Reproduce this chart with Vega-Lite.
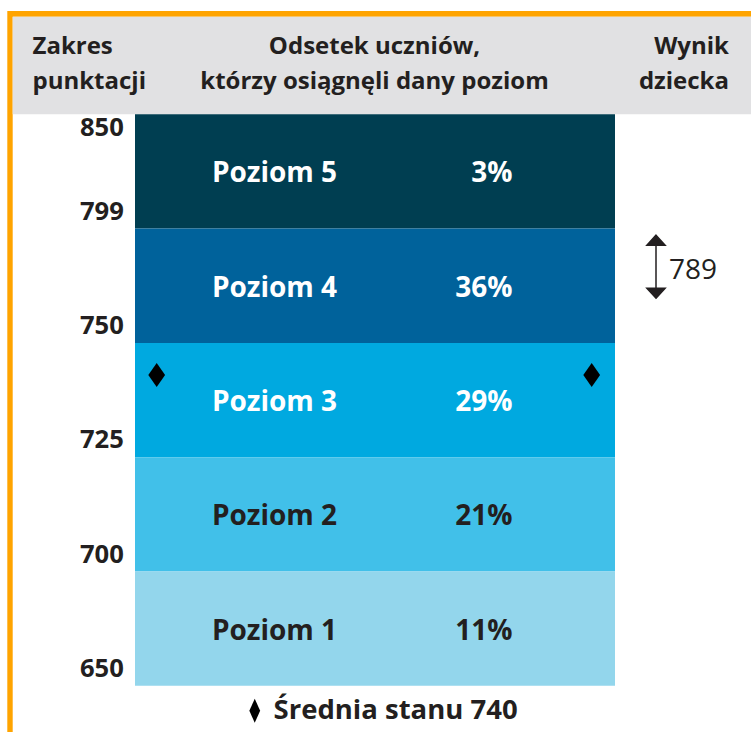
{
  "$schema": "https://vega.github.io/schema/vega-lite/v6.json",
  "width": 751,
  "height": 732,
  "autosize": {"type": "none"},
  "padding": 0,
  "background": "white",
  "config": {
    "view": {"stroke": null},
    "font": "Open Sans",
    "axisX": {"disable": true}
  },
  "datasets": {
    "poziomy": [
      {"poziom": "Poziom 5", "nr": 5, "od": 799, "do": 850, "odsetek": 0.03},
      {"poziom": "Poziom 4", "nr": 4, "od": 750, "do": 799, "odsetek": 0.36},
      {"poziom": "Poziom 3", "nr": 3, "od": 725, "do": 750, "odsetek": 0.29},
      {"poziom": "Poziom 2", "nr": 2, "od": 700, "do": 725, "odsetek": 0.21},
      {"poziom": "Poziom 1", "nr": 1, "od": 650, "do": 700, "odsetek": 0.11}
    ],
    "srednia": [{"srednia": 740, "etykieta": "Średnia stanu 740"}],
    "dziecko": [{"wynik": 789}]
  },
  "layer": [
    {
      "data": {"values": [{}]},
      "layer": [
        {
          "mark": {"type": "rect", "color": "#ffa400"},
          "encoding": {
            "x": {"datum": 7.3, "type": "quantitative", "scale": {"domain": [0, 751], "nice": false, "zero": false}},
            "x2": {"datum": 751},
            "y": {"datum": 11, "type": "quantitative", "scale": {"domain": [0, 732], "range": [0, 732], "nice": false, "zero": false}, "axis": null},
            "y2": {"datum": 732}
          }
        },
        {
          "mark": {"type": "rect", "color": "#ffffff"},
          "encoding": {
            "x": {"datum": 12.7, "type": "quantitative", "scale": {"domain": [0, 751], "nice": false, "zero": false}},
            "x2": {"datum": 751},
            "y": {"datum": 16.7, "type": "quantitative", "axis": null},
            "y2": {"datum": 732}
          }
        },
        {
          "mark": {"type": "rect", "color": "#e1e1e3"},
          "encoding": {
            "x": {"datum": 12.7, "type": "quantitative"},
            "x2": {"datum": 751},
            "y": {"datum": 16.7, "type": "quantitative", "axis": null},
            "y2": {"datum": 114.3}
          }
        },
        {
          "mark": {"type": "text", "align": "left", "baseline": "alphabetic", "font": "Open Sans", "fontWeight": "bold", "fontSize": 24, "lineHeight": 35, "color": "#231f20"},
          "encoding": {
            "text": {"value": ["Zakres", "punktacji"]},
            "x": {"datum": 32.5, "type": "quantitative"},
            "y": {"datum": 54.3, "type": "quantitative", "axis": null}
          }
        },
        {
          "mark": {"type": "text", "align": "center", "baseline": "alphabetic", "font": "Open Sans", "fontWeight": "bold", "fontSize": 24, "lineHeight": 35, "color": "#231f20"},
          "encoding": {
            "text": {"value": ["Odsetek uczniów,", "którzy osiągnęli dany poziom"]},
            "x": {"datum": 374.5, "type": "quantitative"},
            "y": {"datum": 54.3, "type": "quantitative", "axis": null}
          }
        },
        {
          "mark": {"type": "text", "align": "right", "baseline": "alphabetic", "font": "Open Sans", "fontWeight": "bold", "fontSize": 24, "lineHeight": 35, "color": "#231f20"},
          "encoding": {
            "text": {"value": ["Wynik", "dziecka"]},
            "x": {"datum": 729, "type": "quantitative"},
            "y": {"datum": 54.3, "type": "quantitative", "axis": null}
          }
        }
      ]
    },
    {
      "layer": [
        {
          "data": {"name": "poziomy"},
          "mark": {"type": "rect"},
          "encoding": {
            "x": {"datum": 135, "type": "quantitative"},
            "x2": {"datum": 615},
            "y": {
              "field": "od", "type": "quantitative",
              "scale": {"domain": [650, 700, 725, 750, 799, 850], "range": [685.8, 571.5, 457.2, 342.9, 228.6, 114.3], "nice": false, "zero": false},
              "axis": {
                "values": [650, 700, 725, 750, 799, 850],
                "orient": "left",
                "offset": -123.3,
                "zindex": 2,
                "domain": false,
                "ticks": false,
                "tickSize": 0,
                "grid": false,
                "labelPadding": 0,
                "labelAlign": "right",
                "labelBaseline": "alphabetic",
                "labelOffset": {"condition": {"test": "datum.value == 850", "value": 20.7}, "value": -9.5},
                "labelFont": "Open Sans",
                "labelFontWeight": "bold",
                "labelFontSize": 25.6,
                "labelColor": "#231f20",
                "labelFlush": false,
                "labelOverlap": false,
                "labelBound": false,
                "format": "d",
                "title": null
              }
            },
            "y2": {"field": "do"},
            "color": {
              "field": "poziom", "type": "nominal",
              "scale": {"domain": ["Poziom 5", "Poziom 4", "Poziom 3", "Poziom 2", "Poziom 1"], "range": ["#003e51", "#00629b", "#00a9e0", "#41c0e9", "#93d6ec"]},
              "legend": null
            }
          }
        },
        {
          "data": {"name": "poziomy"},
          "mark": {"type": "text", "align": "center", "baseline": "alphabetic", "dy": 68, "font": "Open Sans", "fontWeight": "bold", "fontSize": 28},
          "encoding": {
            "text": {"field": "poziom"},
            "x": {"datum": 274.5, "type": "quantitative"},
            "y": {"field": "do", "type": "quantitative", "scale": {"domain": [650, 700, 725, 750, 799, 850], "range": [685.8, 571.5, 457.2, 342.9, 228.6, 114.3], "nice": false, "zero": false}},
            "color": {"condition": {"test": "datum.nr >= 3", "value": "#ffffff"}, "value": "#231f20"}
          }
        },
        {
          "data": {"name": "poziomy"},
          "mark": {"type": "text", "align": "right", "baseline": "alphabetic", "dy": 68, "font": "Open Sans", "fontWeight": "bold", "fontSize": 28},
          "encoding": {
            "text": {"field": "odsetek", "type": "quantitative", "format": ".0%"},
            "x": {"datum": 512.5, "type": "quantitative"},
            "y": {"field": "do", "type": "quantitative", "scale": {"domain": [650, 700, 725, 750, 799, 850], "range": [685.8, 571.5, 457.2, 342.9, 228.6, 114.3], "nice": false, "zero": false}},
            "color": {"condition": {"test": "datum.nr >= 3", "value": "#ffffff"}, "value": "#231f20"}
          }
        },
        {
          "data": {"name": "srednia"},
          "mark": {"type": "point", "shape": "M0,-1L0.7,0L0,1L-0.7,0Z", "size": 576, "filled": true, "opacity": 1, "strokeWidth": 0},
          "encoding": {
            "x": {"datum": 156.7, "type": "quantitative"},
            "y": {"field": "srednia", "type": "quantitative", "scale": {"domain": [650, 700, 725, 750, 799, 850], "range": [685.8, 571.5, 457.2, 342.9, 228.6, 114.3], "nice": false, "zero": false}},
            "yOffset": {"value": -13.6},
            "fill": {
              "field": "etykieta", "type": "nominal",
              "scale": {"range": ["#000000"]},
              "legend": {
                "orient": "none", "legendX": 241, "legendY": 697, "title": null, "padding": 0,
                "symbolType": "M0,-1L0.45,0L0,1L-0.45,0Z", "symbolSize": 576, "symbolStrokeWidth": 0, "symbolOpacity": 1,
                "labelFont": "Open Sans", "labelFontWeight": "bold", "labelFontSize": 27.5, "labelColor": "#231f20",
                "labelOffset": 5, "labelLimit": 0
              }
            }
          }
        },
        {
          "data": {"name": "srednia"},
          "mark": {"type": "point", "shape": "M0,-1L0.7,0L0,1L-0.7,0Z", "size": 576, "filled": true, "opacity": 1, "strokeWidth": 0},
          "encoding": {
            "x": {"datum": 591.7, "type": "quantitative"},
            "y": {"field": "srednia", "type": "quantitative", "scale": {"domain": [650, 700, 725, 750, 799, 850], "range": [685.8, 571.5, 457.2, 342.9, 228.6, 114.3], "nice": false, "zero": false}},
            "yOffset": {"value": -13.6},
            "fill": {
              "field": "etykieta", "type": "nominal",
              "scale": {"range": ["#000000"]},
              "legend": {
                "orient": "none", "legendX": 241, "legendY": 697, "title": null, "padding": 0,
                "symbolType": "M0,-1L0.45,0L0,1L-0.45,0Z", "symbolSize": 576, "symbolStrokeWidth": 0, "symbolOpacity": 1,
                "labelFont": "Open Sans", "labelFontWeight": "bold", "labelFontSize": 27.5, "labelColor": "#231f20",
                "labelOffset": 5, "labelLimit": 0
              }
            }
          }
        },
        {
          "data": {"name": "dziecko"},
          "mark": {"type": "point", "shape": "M0,-1L0.29,-0.68L-0.29,-0.68Z M0,1L0.29,0.68L-0.29,0.68Z M0,-0.7L0,0.7", "size": 3969, "filled": true, "color": "#231f20", "stroke": "#231f20", "strokeWidth": 1.5, "opacity": 1},
          "encoding": {
            "x": {"datum": 656, "type": "quantitative"},
            "y": {"field": "wynik", "type": "quantitative", "scale": {"domain": [650, 700, 725, 750, 799, 850], "range": [685.8, 571.5, 457.2, 342.9, 228.6, 114.3], "nice": false, "zero": false}},
            "yOffset": {"value": 14.8}
          }
        },
        {
          "data": {"name": "dziecko"},
          "mark": {"type": "text", "align": "left", "baseline": "alphabetic", "dy": 27.4, "font": "Open Sans", "fontWeight": "normal", "fontSize": 28, "color": "#231f20"},
          "encoding": {
            "text": {"field": "wynik", "type": "quantitative", "format": "d"},
            "x": {"datum": 669, "type": "quantitative"},
            "y": {"field": "wynik", "type": "quantitative", "scale": {"domain": [650, 700, 725, 750, 799, 850], "range": [685.8, 571.5, 457.2, 342.9, 228.6, 114.3], "nice": false, "zero": false}}
          }
        }
      ]
    }
  ],
  "resolve": {"scale": {"y": "independent"}}
}
